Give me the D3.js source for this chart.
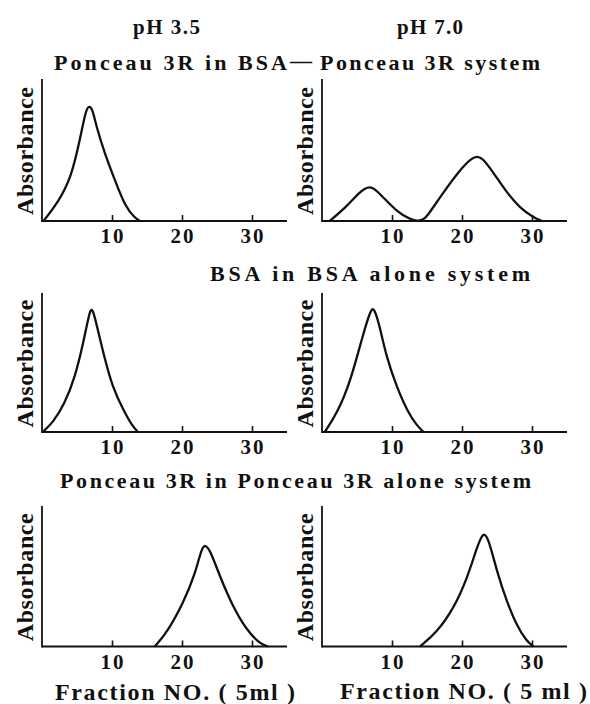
<!DOCTYPE html>
<html>
<head>
<meta charset="utf-8">
<script src="https://cdn.jsdelivr.net/npm/d3@7"></script>
<style>
  html, body { margin: 0; padding: 0; background: #fff; }
  svg { display: block; }
  text { font-family: "Liberation Serif", "DejaVu Serif", serif; font-weight: bold; fill: #111; }
</style>
</head>
<body>
<svg id="chart" width="590" height="704"></svg>
<script>
// Elution profiles (fraction number vs. relative absorbance)
const fractionTicks = [10, 20, 30];
const phLabels = ["pH 3.5", "pH 7.0"];
const rowTitleTop = ["Ponceau 3R in BSA", "—", "Ponceau 3R system"];
const rowTitleMiddle = "BSA in BSA alone system";
const rowTitleBottom = "Ponceau 3R in Ponceau 3R alone system";
const xLabels = ["Fraction NO. ( 5ml )", "Fraction NO. ( 5 ml )"];
const yLabel = "Absorbance";

// Ponceau 3R in BSA–Ponceau 3R system
const mixPh35Fraction = [0.2, 2.3, 4.2, 5.4, 6.3, 6.75, 7.2, 7.8, 9.0, 10.4, 11.9, 13.3, 14.0];
const mixPh35Abs      = [0, 0.13, 0.31, 0.57, 0.79, 0.81, 0.79, 0.66, 0.47, 0.29, 0.10, 0.02, 0];
const mixPh70Fraction = [1.1, 3.5, 5.2, 6.2, 6.8, 7.4, 8.5, 10.7, 12.6, 13.5, 14.4, 15.0, 17.3, 19.7, 21.4, 22.2, 22.9, 24.5, 26.4, 28.3, 30.2, 31.4];
const mixPh70Abs      = [0, 0.10, 0.195, 0.232, 0.24, 0.232, 0.18, 0.065, 0.012, 0, 0.008, 0.03, 0.20, 0.36, 0.445, 0.455, 0.445, 0.34, 0.20, 0.09, 0.026, 0];

// BSA in BSA alone system
const bsaPh35Fraction = [0.1, 1.6, 3.2, 4.7, 5.9, 6.8, 7.2, 8.0, 9.0, 10.1, 11.6, 12.8, 13.7];
const bsaPh35Abs      = [0, 0.07, 0.20, 0.39, 0.64, 0.87, 0.90, 0.73, 0.52, 0.32, 0.16, 0.05, 0];
const bsaPh70Fraction = [0.4, 2.1, 4.0, 5.9, 6.9, 7.4, 8.3, 9.2, 10.7, 12.3, 13.5, 14.5];
const bsaPh70Abs      = [0, 0.13, 0.35, 0.71, 0.87, 0.905, 0.75, 0.54, 0.32, 0.14, 0.05, 0];

// Ponceau 3R in Ponceau 3R alone system
const dyePh35Fraction = [16.1, 17.8, 20.2, 21.9, 22.8, 23.3, 24.0, 25.4, 27.3, 29.2, 31.1, 32.3];
const dyePh35Abs      = [0, 0.094, 0.31, 0.52, 0.70, 0.725, 0.69, 0.50, 0.28, 0.12, 0.02, 0];
const dyePh70Fraction = [14.0, 16.4, 18.8, 20.7, 22.1, 23.0, 23.8, 25.0, 26.4, 27.8, 29.2, 30.2];
const dyePh70Abs      = [0, 0.10, 0.27, 0.48, 0.70, 0.82, 0.77, 0.53, 0.32, 0.15, 0.04, 0];

const xDomain = [0, 35];
const yDomain = [0, 1];

// Panel layout: columns (pH) and rows (system)
const cols = [{ x0: 42, x1: 287 }, { x0: 322, x1: 567 }];
const rows = [{ top: 79, bottom: 221 }, { top: 293, bottom: 432 }, { top: 506, bottom: 646.5 }];

const panels = [
  { row: 0, col: 0, fx: mixPh35Fraction, ab: mixPh35Abs },
  { row: 0, col: 1, fx: mixPh70Fraction, ab: mixPh70Abs },
  { row: 1, col: 0, fx: bsaPh35Fraction, ab: bsaPh35Abs },
  { row: 1, col: 1, fx: bsaPh70Fraction, ab: bsaPh70Abs },
  { row: 2, col: 0, fx: dyePh35Fraction, ab: dyePh35Abs },
  { row: 2, col: 1, fx: dyePh70Fraction, ab: dyePh70Abs }
];

const svg = d3.select("#chart");

panels.forEach(p => {
  const c = cols[p.col], r = rows[p.row];
  const x = d3.scaleLinear().domain(xDomain).range([c.x0, c.x1]);
  const y = d3.scaleLinear().domain(yDomain).range([r.bottom, r.top]);
  const g = svg.append("g");

  // x axis: baseline with short inward ticks
  const xAxis = d3.axisTop(x).tickValues(fractionTicks).tickSize(6).tickFormat("");
  const ax = g.append("g").attr("transform", `translate(0,${r.bottom})`).call(xAxis);
  ax.select(".domain").remove();
  ax.selectAll(".tick line").attr("stroke", "#111").attr("stroke-width", 1.6);
  g.append("line")
    .attr("x1", x(xDomain[0])).attr("x2", x(xDomain[1]))
    .attr("y1", r.bottom).attr("y2", r.bottom)
    .attr("stroke", "#111").attr("stroke-width", 2);

  // y axis line
  g.append("line")
    .attr("x1", c.x0).attr("x2", c.x0)
    .attr("y1", y(yDomain[1])).attr("y2", r.bottom + 1)
    .attr("stroke", "#111").attr("stroke-width", 1.8);

  // tick labels
  g.selectAll("text.tick").data(fractionTicks).join("text")
    .attr("class", "tick")
    .attr("x", d => x(d)).attr("y", r.bottom + 22)
    .attr("text-anchor", "middle")
    .attr("font-size", 21)
    .attr("textLength", 23).attr("lengthAdjust", "spacing")
    .text(d => d);

  // y label
  g.append("text")
    .attr("transform", `translate(${c.x0 - 9},${(r.top + r.bottom) / 2 + 1}) rotate(-90)`)
    .attr("text-anchor", "middle")
    .attr("font-size", 24)
    .attr("textLength", 128).attr("lengthAdjust", "spacing")
    .text(yLabel);

  // elution curve
  const pts = p.fx.map((f, i) => [f, p.ab[i]]);
  const line = d3.line().x(d => x(d[0])).y(d => y(d[1])).curve(d3.curveBasis);
  g.append("path")
    .attr("d", line(pts))
    .attr("fill", "none")
    .attr("stroke", "#111")
    .attr("stroke-width", 2.3)
    .attr("stroke-linejoin", "round");
});

// headings
function label(str, x, yBase, width, size) {
  svg.append("text")
    .attr("x", x).attr("y", yBase)
    .attr("font-size", size)
    .attr("textLength", width).attr("lengthAdjust", "spacing")
    .text(str);
}

label(phLabels[0], 133, 34, 67, 21);
label(phLabels[1], 397, 34, 66, 21);

label(rowTitleTop[0], 54, 70, 233, 22);
label(rowTitleTop[1], 290, 68, 24, 22);
label(rowTitleTop[2], 320, 70, 220, 22);

label(rowTitleMiddle, 210, 281, 320, 22);
label(rowTitleBottom, 60, 488, 471, 22);

label(xLabels[0], 55, 700, 240, 24);
label(xLabels[1], 340, 699, 247, 24);
</script>
</body>
</html>
